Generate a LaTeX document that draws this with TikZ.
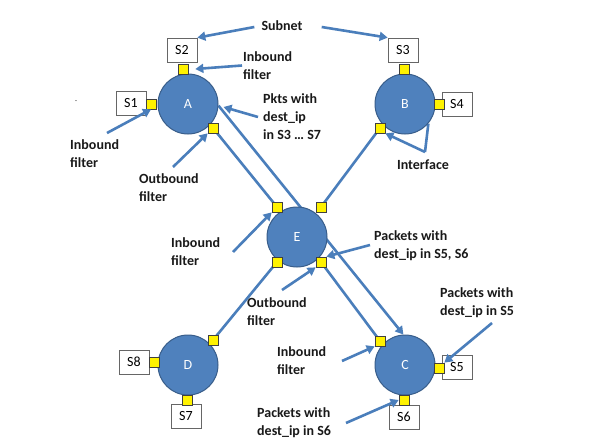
\documentclass[tikz,border=0pt]{standalone}
\usepackage{fontspec}
\setmainfont{Carlito}
\usetikzlibrary{arrows.meta}
\pgfdeclarelayer{back}
\pgfdeclarelayer{bg}
\pgfsetlayers{back,bg,main}
\definecolor{rfill}{HTML}{4F81BD}
\definecolor{rline}{HTML}{385D8A}
\definecolor{lblue}{HTML}{4A7EBB}
\tikzset{
 router/.style={circle, fill=rfill, draw=rline, line width=1pt, minimum size=60pt, inner sep=0pt, text=white, font=\fontsize{14}{16}\selectfont},
 port/.style={rectangle, fill=yellow, draw=black!75, line width=0.7pt, minimum size=10pt, inner sep=0pt},
 subnet/.style={rectangle, fill=white, draw=black!60, line width=0.7pt, minimum width=30pt, minimum height=24pt, inner sep=0pt, font=\fontsize{14}{16}\selectfont},
 lbl/.style={anchor=west, align=left, inner sep=0pt, font=\bfseries\fontsize{14}{18}\selectfont, text=black!90},
 link/.style={draw=lblue, line width=2.6pt},
 callout/.style={draw=lblue, line width=2.6pt, -{Triangle[length=8pt,width=9pt]}},
}
\begin{document}
\begin{tikzpicture}[x=1pt,y=-1pt]
\begin{pgfonlayer}{back}
\fill[white] (0,0) rectangle (592,444);
\end{pgfonlayer}
\useasboundingbox (0,0) rectangle (592,444);
% subnets
\node[subnet] (S2) at (182,50) {S2};
\node[subnet] (S1) at (131,103) {S1};
\node[subnet] (S3) at (403,50) {S3};
\node[subnet] (S4) at (457,104) {S4};
\node[subnet] (S8) at (134,362) {S8};
\node[subnet] (S7) at (186,416) {S7};
\node[subnet] (S5) at (457,367) {S5};
\node[subnet] (S6) at (404,417) {S6};
% routers
\node[router] (A) at (188,104) {A};
\node[router] (B) at (405,104) {B};
\node[router] (E) at (297,237) {E};
\node[router] (D) at (188,365) {D};
\node[router] (C) at (405,365) {C};
% ports
\node[port] (pA1) at (183,69) {};
\node[port] (pA2) at (151,104) {};
\node[port] (pA3) at (213,128) {};
\node[port] (pB1) at (404,69) {};
\node[port] (pB2) at (439,104) {};
\node[port] (pB3) at (380,128) {};
\node[port] (pE1) at (277,207) {};
\node[port] (pE2) at (321,207) {};
\node[port] (pE3) at (277,262) {};
\node[port] (pE4) at (321,262) {};
\node[port] (pD1) at (213,340) {};
\node[port] (pD2) at (154,362) {};
\node[port] (pD3) at (187,400) {};
\node[port] (pC1) at (380,341) {};
\node[port] (pC2) at (439,368) {};
\node[port] (pC3) at (404,400) {};
% labels
\node[lbl, anchor=center] (sub) at (282,26) {Subnet};
\node[lbl] (iS2) at (243,65.5) {Inbound\\filter};
\node[lbl] (pk) at (263,117) {Pkts with\\dest\_ip\\in S3 … S7};
\node[lbl] (iS1) at (70,154) {Inbound\\filter};
\node[lbl] (oA) at (139,188) {Outbound\\filter};
\node[lbl, anchor=center] (intf) at (423,165) {Interface};
\node[lbl] (iE) at (171,252) {Inbound\\filter};
\node[lbl] (pk2) at (374,246) {Packets with\\dest\_ip in S5, S6};
\node[lbl] (oE) at (247,311.5) {Outbound\\filter};
\node[lbl] (iC) at (277,361) {Inbound\\filter};
\node[lbl] (pk5) at (440,303) {Packets with\\dest\_ip in S5};
\node[lbl] (pk6) at (257,423) {Packets with\\dest\_ip in S6};
\node[font=\fontsize{8}{8}\selectfont, text=black!70, inner sep=0pt] (dash) at (76,102) {-};
% free ends
\coordinate (t5) at (107,133);
\coordinate (t6) at (173,167);
\coordinate (ap) at (425,152);
\coordinate (t8) at (233,252);
\coordinate (t10) at (282,290);
\coordinate (t11) at (342,361);
\coordinate (t12) at (492,323);
\coordinate (t13) at (346,423);
% background links
\begin{pgfonlayer}{bg}
\draw[link] (pA3.center) -- (pE1.center);
\draw[link] (pB3.center) -- (pE2.center);
\draw[link] (pE3.center) -- (pD1.center);
\draw[link] (pE4.center) -- (pC1.center);
\draw[callout] (A.-3) -- (C.93);
\draw[link] (ap) -- (B.-40);
\end{pgfonlayer}
% callouts
\draw[callout] ([shift={(-7,1)}]sub.west) -- (S2.north east);
\draw[callout] ([shift={(19,1)}]sub.east) -- (S3.north west);
\draw[callout] ([shift={(-1,0)}]iS2.west) -- ([shift={(7,0)}]pA1.east);
\draw[callout] ([shift={(-5,0)}]pk.west) -- ([shift={(5,3)}]A.east);
\draw[callout] (t5) -- (pA2.south);
\draw[callout] (t6) -- (pA3.south west);
\draw[callout] (ap) -- (pB3.south east);
\draw[callout] (t8) -- (pE1.south west);
\draw[callout] ([shift={(-4,-1)}]pk2.west) -- (pE4.north east);
\draw[callout] (t10) -- (pE4.south west);
\draw[callout] (t11) -- (pC1.south west);
\draw[callout] (t12) -- (pC2.north east);
\draw[callout] (t13) -- (pC3.west);
\end{tikzpicture}
\end{document}
